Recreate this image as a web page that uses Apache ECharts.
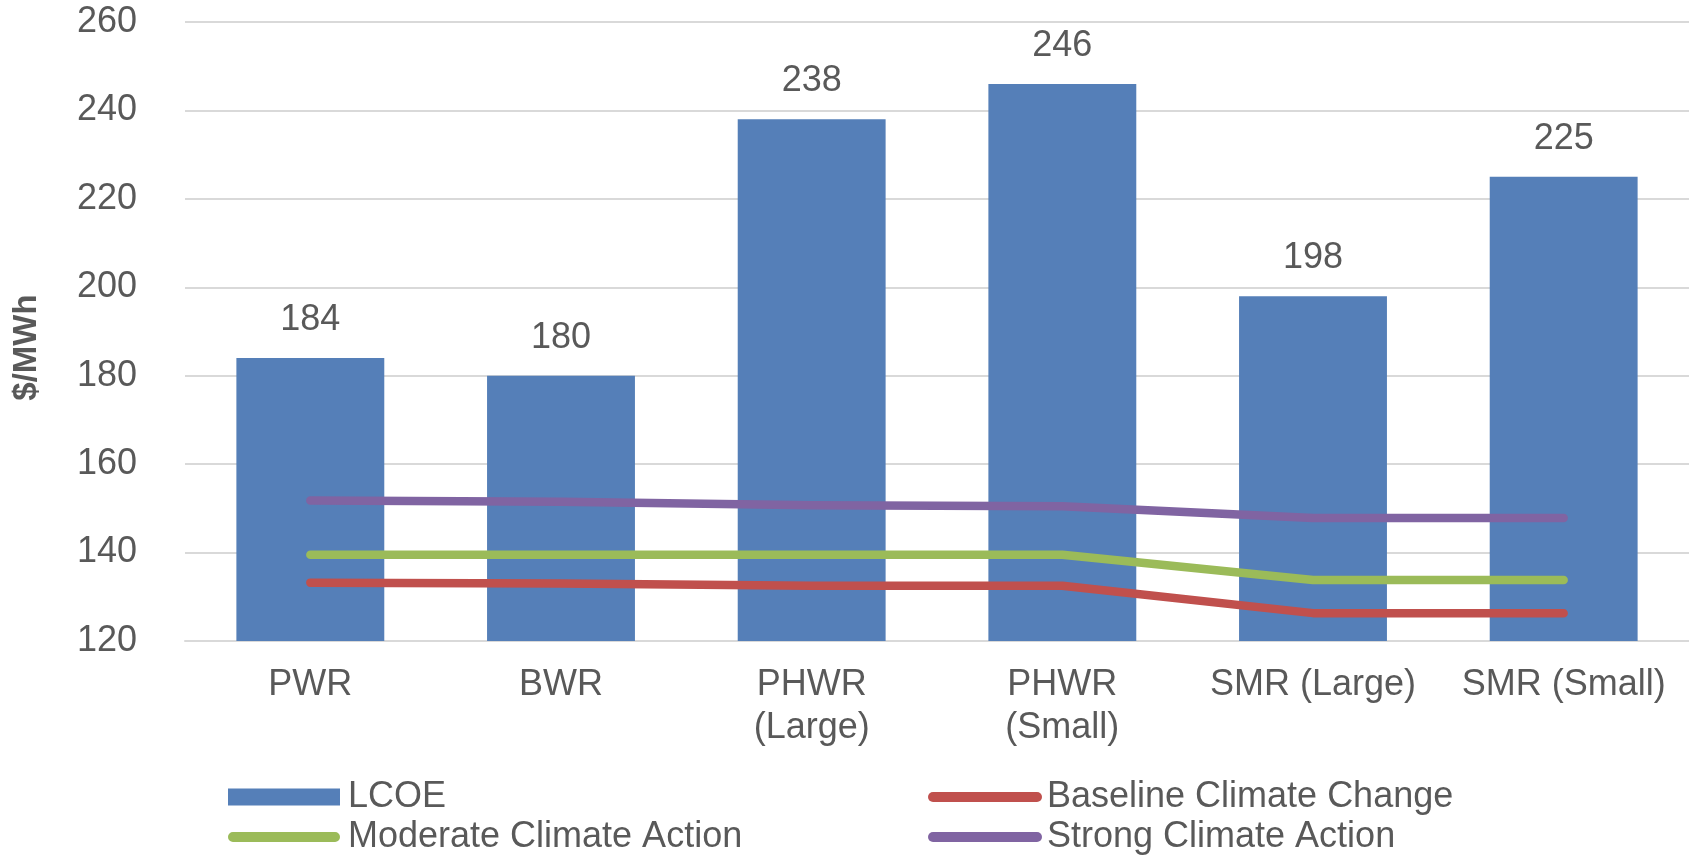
<!DOCTYPE html>
<html><head><meta charset="utf-8">
<script src="https://cdn.jsdelivr.net/npm/echarts@6/dist/echarts.min.js"></script>
<style>html,body{margin:0;padding:0;background:#fff}#c{width:1689px;height:858px}</style>
</head><body><div id="c"></div>
<script>
const categories = ['PWR', 'BWR', 'PHWR\n(Large)', 'PHWR\n(Small)', 'SMR (Large)', 'SMR (Small)'];
const lcoe = [184, 180, 238, 246, 198, 225];
const baseline = [133.2, 133, 132.5, 132.5, 126.3, 126.3];
const moderate = [139.5, 139.5, 139.5, 139.5, 133.8, 133.8];
const strong = [151.8, 151.5, 150.7, 150.5, 147.8, 147.8];
const yTicks = {min: 120, max: 260, interval: 20};

const FONT = 'Liberation Sans, Arial, sans-serif';
const TXT = '#595959';
const lineIcon = 'path://M5,0 L109,0 A5,5 0 0 1 109,10 L5,10 A5,5 0 0 1 5,0 Z';

const chart = echarts.init(document.getElementById('c'), null, {renderer: 'canvas'});
const lineSeries = (name, data, color) => ({
  name, type: 'line', data, symbol: 'none', z: 3,
  lineStyle: {color, width: 8.5, cap: 'round', join: 'round'},
  itemStyle: {color}
});
const legendBase = {
  top: 779, orient: 'vertical', height: 200, padding: 0,
  itemHeight: 17, itemGap: 4,
  textStyle: {color: TXT, fontSize: 36, lineHeight: 30, fontFamily: FONT}
};
chart.setOption({
  animation: false,
  textStyle: {fontFamily: FONT},
  grid: {left: 185, right: 0, top: 22, bottom: 217, containLabel: false},
  xAxis: {
    type: 'category', data: categories,
    axisLine: {lineStyle: {color: '#d9d9d9', width: 2}},
    axisTick: {show: false},
    axisLabel: {interval: 0, color: TXT, fontSize: 36, margin: 23, lineHeight: 43, fontFamily: FONT}
  },
  yAxis: {
    type: 'value', min: yTicks.min, max: yTicks.max, interval: yTicks.interval,
    name: '$/MWh', nameLocation: 'middle', nameGap: 142, nameRotate: 90,
    nameTextStyle: {color: TXT, fontSize: 33, fontWeight: 'bold', fontFamily: FONT, padding: [0, 32, 0, 0]},
    axisLine: {show: false}, axisTick: {show: false},
    axisLabel: {color: TXT, fontSize: 36, margin: 48, fontFamily: FONT},
    splitLine: {lineStyle: {color: '#d9d9d9', width: 2}}
  },
  legend: [
    Object.assign({}, legendBase, {left: 228, itemWidth: 112,
     textStyle: Object.assign({}, legendBase.textStyle, {padding: [0, 0, 0, 3]}),
     data: [{name: 'LCOE', icon: 'rect'}, {name: 'Moderate Climate Action', icon: lineIcon}]}),
    Object.assign({}, legendBase, {left: 928, itemWidth: 114,
     data: [{name: 'Baseline Climate Change', icon: lineIcon}, {name: 'Strong Climate Action', icon: lineIcon}]})
  ],
  series: [
    {name: 'LCOE', type: 'bar', data: lcoe, barWidth: '59%',
     itemStyle: {color: '#557fb8'},
     label: {show: true, position: 'top', distance: 20, color: TXT, fontSize: 36, fontFamily: FONT}},
    lineSeries('Baseline Climate Change', baseline, '#c0504d'),
    lineSeries('Moderate Climate Action', moderate, '#9bbb59'),
    lineSeries('Strong Climate Action', strong, '#8064a2')
  ]
});
</script></body></html>
